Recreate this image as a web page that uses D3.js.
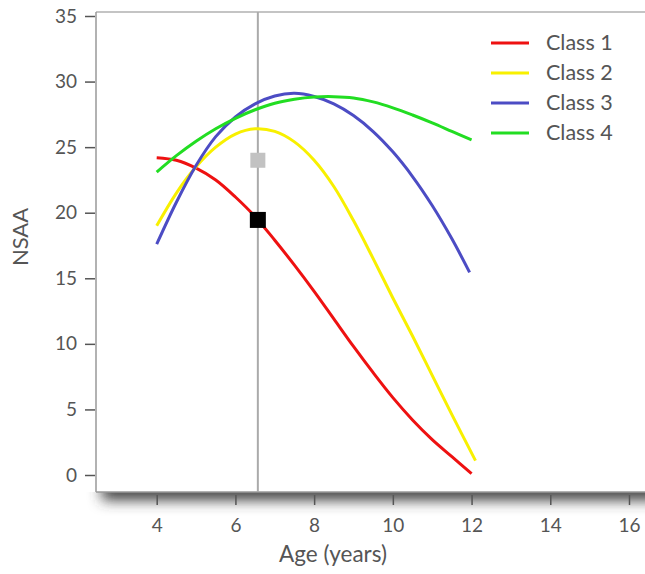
<!DOCTYPE html>
<html><head><meta charset="utf-8">
<script src="https://cdn.jsdelivr.net/npm/d3@7"></script>
<style>
html,body{margin:0;padding:0;background:#fff;}
svg{display:block;font-family:Lato,"Open Sans",sans-serif;}
</style></head>
<body>
<svg id="chart" width="645" height="574"></svg>
<script>
// ---- data ----
const class1Ages = [4,4.5,5,5.5,6,6.5,7,7.5,8,8.5,9,9.5,10,10.5,11,11.5,12];
const class1Vals = [24.2,24.0,23.4,22.5,21.2,19.7,17.9,16.0,14.0,11.9,9.8,7.8,5.9,4.2,2.7,1.4,0.1];
const class2Ages = [4,4.5,5,5.5,6,6.5,7,7.5,8,8.5,9,9.5,10,10.5,11,11.5,12.1];
const class2Vals = [19.0,21.5,23.5,25.0,26.0,26.4,26.2,25.4,24.0,22.0,19.4,16.5,13.5,10.6,7.6,4.6,1.1];
const class3Ages = [4,4.5,5,5.5,6,6.5,7,7.5,8,8.5,9,9.5,10,10.5,11,11.5,11.95];
const class3Vals = [17.6,20.8,23.6,25.8,27.3,28.3,28.9,29.1,28.86,28.30,27.41,26.19,24.64,22.76,20.55,18.01,15.45];
const class4Ages = [4,4.5,5,5.5,6,6.5,7,7.5,8,8.5,9,9.5,10,10.5,11,11.5,12];
const class4Vals = [23.1,24.35,25.45,26.4,27.2,27.85,28.35,28.65,28.82,28.85,28.75,28.45,28.0,27.45,26.85,26.2,25.55];
const seriesNames = ["Class 1","Class 2","Class 3","Class 4"];
const seriesColors = ["#ee1111","#f8f000","#4c4cc4","#22dd22"];
const xTicks = [4,6,8,10,12,14,16];
const yTicks = [0,5,10,15,20,25,30,35];
const markerAge = 6.57;
const markerVals = [24.0, 19.45];
const markerColors = ["#c2c2c2","#000000"];

const series = [
  {name:seriesNames[0], ages:class1Ages, vals:class1Vals},
  {name:seriesNames[1], ages:class2Ages, vals:class2Vals},
  {name:seriesNames[2], ages:class3Ages, vals:class3Vals},
  {name:seriesNames[3], ages:class4Ages, vals:class4Vals}
];

const svg = d3.select("#chart");
const x = d3.scaleLinear().domain([4,16]).range([156.7,629]);
const y = d3.scaleLinear().domain([0,35]).range([475,16]);
const pLeft = 96, pTop = 12, pBottom = 492, pRight = 645;
const txt = "#555";
const ff = "Lato,'Open Sans',sans-serif";

// shadow under x-axis
const defs = svg.append("defs");
defs.append("filter").attr("id","blur").attr("x","-20%").attr("y","-200%").attr("width","140%").attr("height","500%")
  .append("feGaussianBlur").attr("stdDeviation",7);
defs.append("clipPath").attr("id","below").append("rect")
  .attr("x",0).attr("y",pBottom).attr("width",645).attr("height",80);
svg.append("g").attr("clip-path","url(#below)")
  .append("rect").attr("x",pLeft+6).attr("y",pBottom-10).attr("width",pRight-pLeft+20).attr("height",18)
  .attr("fill","#3a3a3a").attr("filter","url(#blur)");

// frame
svg.append("line").attr("x1",pLeft).attr("x2",pRight).attr("y1",pTop).attr("y2",pTop)
  .attr("stroke","#b0b0b0").attr("stroke-width",1.5);
svg.append("line").attr("x1",pLeft).attr("x2",pLeft).attr("y1",pTop).attr("y2",pBottom)
  .attr("stroke","#999").attr("stroke-width",1.5);
svg.append("line").attr("x1",pLeft).attr("x2",pRight).attr("y1",pBottom).attr("y2",pBottom)
  .attr("stroke","#999").attr("stroke-width",1.5);

// y axis
const yAxis = svg.append("g").attr("transform",`translate(${pLeft-1},0)`)
  .call(d3.axisLeft(y).tickValues(yTicks).tickSize(10).tickPadding(8));
yAxis.select(".domain").remove();
yAxis.selectAll("line").attr("stroke","#555").attr("stroke-width",1.5);
yAxis.selectAll("text").attr("fill",txt).style("font-size","19px").style("font-family",ff);

// x axis
const xAxis = svg.append("g").attr("transform",`translate(0,${pBottom+3})`)
  .call(d3.axisBottom(x).tickValues(xTicks).tickSize(10).tickPadding(14));
xAxis.select(".domain").remove();
xAxis.selectAll("line").attr("stroke","#555").attr("stroke-width",1.5);
xAxis.selectAll("text").attr("fill",txt).style("font-size","19px").style("font-family",ff);

// axis titles
svg.append("text").attr("x",333).attr("y",562).attr("text-anchor","middle")
  .attr("fill",txt).style("font-size","22.5px").text("Age (years)");
svg.append("text").attr("transform","translate(28,237) rotate(-90)").attr("text-anchor","middle")
  .attr("fill",txt).style("font-size","22px").text("NSAA");

// vertical reference line
svg.append("line").attr("x1",x(markerAge)).attr("x2",x(markerAge)).attr("y1",pTop).attr("y2",pBottom)
  .attr("stroke","#aaa").attr("stroke-width",2);

// curves
const line = d3.line().x(d=>x(d[0])).y(d=>y(d[1])).curve(d3.curveCatmullRom.alpha(0.5));
series.forEach((s,i)=>{
  const pts = s.ages.map((a,j)=>[a,s.vals[j]]);
  svg.append("path").attr("d",line(pts)).attr("fill","none")
    .attr("stroke",seriesColors[i]).attr("stroke-width",3).attr("stroke-linecap","butt");
});

// markers
markerVals.forEach((v,i)=>{
  const s = i===0 ? 15 : 16;
  svg.append("rect").attr("x",x(markerAge)-s/2).attr("y",y(v)-s/2).attr("width",s).attr("height",s)
    .attr("fill",markerColors[i]);
});

// legend
const leg = svg.append("g");
seriesNames.forEach((n,i)=>{
  const yy = 43 + i*30;
  leg.append("line").attr("x1",491).attr("x2",529).attr("y1",yy).attr("y2",yy)
    .attr("stroke",seriesColors[i]).attr("stroke-width",3);
  leg.append("text").attr("x",546).attr("y",yy+7).attr("fill",txt).style("font-size","21.5px").text(n);
});
</script>
</body></html>
